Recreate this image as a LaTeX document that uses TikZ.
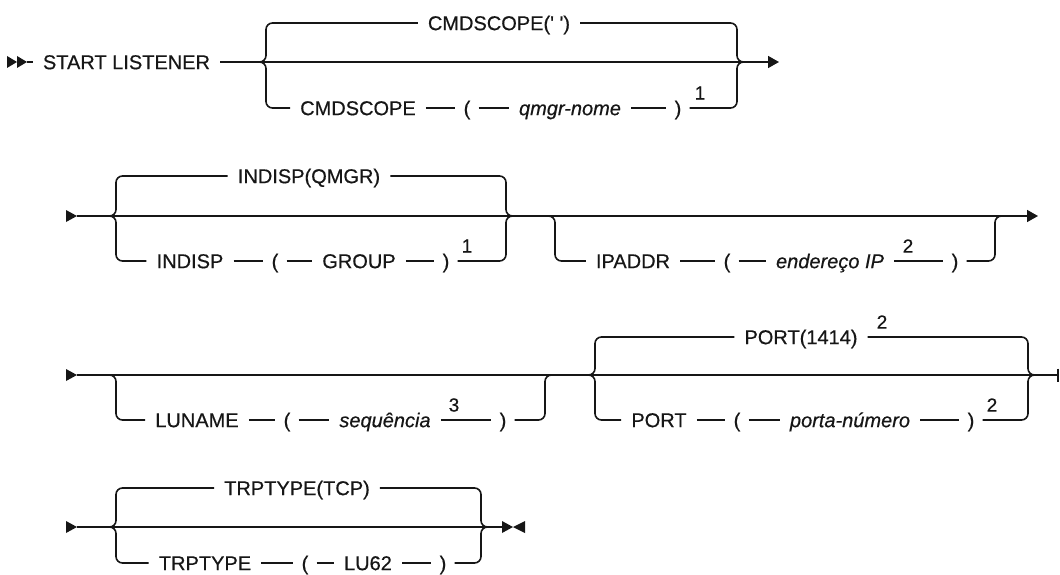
\documentclass[tikz,border=0pt]{standalone}
\usepackage{fontspec}
\setmainfont{Liberation Sans}[FakeBold=0.5]
\usetikzlibrary{arrows.meta}
\definecolor{railInk}{RGB}{22, 22, 22}
\newcommand{\railfont}{\fontsize{20}{23}\selectfont}
\newcommand{\railnote}{\fontsize{19}{21}\selectfont}

\begin{document}
\begin{tikzpicture}[x=1pt, y=-1pt,
  rail/.style={line width=1.6pt, draw=railInk},
  fork/.style={rail, rounded corners=6.5pt},
  kw/.style={font=\railfont, text=railInk, inner xsep=10pt, inner ysep=0pt,
    text height=14.3pt, text depth=0pt},
  var/.style={kw, font=\railfont\itshape},
  paren/.style={kw, inner xsep=8pt},
  note/.style={font=\railnote, text=railInk, inner sep=0pt},
  endtip/.style={-{Triangle[length=11pt, width=12pt]}}]
  \useasboundingbox (0,0) rectangle (1060,575);

  % 1. START LISTENER, CMDSCOPE
  \begin{scope}[yshift=-62pt]
  \fill[railInk] (7,-6) -- (17,0) -- (7,6) -- cycle;
  \fill[railInk] (17,-6) -- (27,0) -- (17,6) -- cycle;
  \coordinate (s1) at (27,0);
  \coordinate (j1) at (258,0);
  \coordinate (b1) at (266,0);
  \coordinate (b1r) at (737,0);
  \coordinate (j1r) at (745,0);
  \coordinate (e1) at (779,0);
  \node[kw] (start) at (126.5,0) {START LISTENER};
  \node[kw] (csdef) at (499,-39) {CMDSCOPE(\textquotesingle\ \textquotesingle)};
  \node[kw] (cs) at (358,46) {CMDSCOPE};
  \node[paren] (cslp) at (467,46) {(};
  \node[var] (qmgr) at (570,46) {qmgr-nome};
  \node[paren] (csrp) at (678,46) {)};
  \node[note] (n1a) at (700,31) {1};
  \draw[rail] (s1) -- (start.west);
  \draw[rail] (start.east) -- (j1);
  \draw[rail, endtip] (j1) -- (e1);
  \draw[fork] (j1) -- (b1) |- (csdef.west);
  \draw[fork] (csdef.east) -| (b1r) -- (j1r);
  \draw[fork] (j1) -- (b1) |- (cs.west);
  \draw[fork] (csrp.east) -| (b1r) -- (j1r);
  \draw[rail] (cs.east) -- (cslp.west);
  \draw[rail] (cslp.east) -- (qmgr.west);
  \draw[rail] (qmgr.east) -- (csrp.west);
  \end{scope}

  % 2. INDISP, IPADDR
  \begin{scope}[yshift=-216pt]
  \fill[railInk] (66,-6) -- (77,0) -- (66,6) -- cycle;
  \coordinate (s2) at (77,0);
  \coordinate (j2) at (108,0);
  \coordinate (b2) at (116,0);
  \coordinate (b2r) at (506,0);
  \coordinate (j2r) at (515,0);
  \coordinate (ipj) at (547,0);
  \coordinate (ipb) at (555,0);
  \coordinate (ipbr) at (995,0);
  \coordinate (ipjr) at (1003,0);
  \coordinate (e2) at (1038,0);
  \node[kw] (inq) at (309,-40) {INDISP(QMGR)};
  \node[kw] (ind) at (190,45) {INDISP};
  \node[paren] (indlp) at (275,45) {(};
  \node[kw] (grp) at (359,45) {GROUP};
  \node[paren] (indrp) at (446,45) {)};
  \node[note] (n2a) at (467,30) {1};
  \node[kw] (ipa) at (633,45) {IPADDR};
  \node[paren] (iplp) at (727,45) {(};
  \node[var] (ipv) at (830,45) {endereço IP};
  \node[note] (n2b) at (908,30) {2};
  \node[paren] (iprp) at (955,45) {)};
  \draw[rail, endtip] (s2) -- (e2);
  \draw[fork] (j2) -- (b2) |- (inq.west);
  \draw[fork] (inq.east) -| (b2r) -- (j2r);
  \draw[fork] (j2) -- (b2) |- (ind.west);
  \draw[fork] (indrp.east) -| (b2r) -- (j2r);
  \draw[rail] (ind.east) -- (indlp.west);
  \draw[rail] (indlp.east) -- (grp.west);
  \draw[rail] (grp.east) -- (indrp.west);
  \draw[fork] (ipj) -- (ipb) |- (ipa.west);
  \draw[fork] (iprp.east) -| (ipbr) -- (ipjr);
  \draw[rail] (ipa.east) -- (iplp.west);
  \draw[rail] (iplp.east) -- (ipv.west);
  \draw[rail] (ipv.east) -- (iprp.west);
  \end{scope}

  % 3. LUNAME, PORT
  \begin{scope}[yshift=-375pt]
  \fill[railInk] (66,-6) -- (77,0) -- (66,6) -- cycle;
  \coordinate (s3) at (77,0);
  \coordinate (luj) at (108,0);
  \coordinate (lub) at (116,0);
  \coordinate (lubr) at (545,0);
  \coordinate (lujr) at (553,0);
  \coordinate (pj) at (587,0);
  \coordinate (pb) at (595,0);
  \coordinate (pbr) at (1028,0);
  \coordinate (pjr) at (1036,0);
  \coordinate (e3) at (1059,0);
  \node[kw] (lun) at (197,45) {LUNAME};
  \node[paren] (lulp) at (287,45) {(};
  \node[var] (seq) at (385,45) {sequência};
  \node[note] (n3a) at (454,30) {3};
  \node[paren] (lurp) at (503,45) {)};
  \node[kw] (pdef) at (801,-38) {PORT(1414)};
  \node[note] (n3b) at (882,-53) {2};
  \node[kw] (port) at (659,45) {PORT};
  \node[paren] (plp) at (737,45) {(};
  \node[var] (pnum) at (850,45) {porta-número};
  \node[paren] (prp) at (971,45) {)};
  \node[note] (n3c) at (992,30) {2};
  \draw[rail, -{Bar[width=13pt]}] (s3) -- (e3);
  \draw[fork] (luj) -- (lub) |- (lun.west);
  \draw[fork] (lurp.east) -| (lubr) -- (lujr);
  \draw[rail] (lun.east) -- (lulp.west);
  \draw[rail] (lulp.east) -- (seq.west);
  \draw[rail] (seq.east) -- (lurp.west);
  \draw[fork] (pj) -- (pb) |- (pdef.west);
  \draw[fork] (pdef.east) -| (pbr) -- (pjr);
  \draw[fork] (pj) -- (pb) |- (port.west);
  \draw[fork] (prp.east) -| (pbr) -- (pjr);
  \draw[rail] (port.east) -- (plp.west);
  \draw[rail] (plp.east) -- (pnum.west);
  \draw[rail] (pnum.east) -- (prp.west);
  \end{scope}

  % 4. TRPTYPE
  \begin{scope}[yshift=-527pt]
  \fill[railInk] (66,-6) -- (77,0) -- (66,6) -- cycle;
  \coordinate (s4) at (77,0);
  \coordinate (tj) at (108,0);
  \coordinate (tb) at (116,0);
  \coordinate (tbr) at (481,0);
  \coordinate (tjr) at (488,0);
  \coordinate (e4) at (502,0);
  \node[kw] (tdef) at (297,-39) {TRPTYPE(TCP)};
  \node[kw] (trp) at (205,36) {TRPTYPE};
  \node[paren] (tlp) at (305,36) {(};
  \node[kw] (lu) at (368,36) {LU62};
  \node[paren] (trpr) at (443,36) {)};
  \draw[rail] (s4) -- (e4);
  \fill[railInk] (502,-6) -- (513,0) -- (502,6) -- cycle;
  \fill[railInk] (525,-6) -- (513,0) -- (525,6) -- cycle;
  \draw[fork] (tj) -- (tb) |- (tdef.west);
  \draw[fork] (tdef.east) -| (tbr) -- (tjr);
  \draw[fork] (tj) -- (tb) |- (trp.west);
  \draw[fork] (trpr.east) -| (tbr) -- (tjr);
  \draw[rail] (trp.east) -- (tlp.west);
  \draw[rail] (tlp.east) -- (lu.west);
  \draw[rail] (lu.east) -- (trpr.west);
  \end{scope}
\end{tikzpicture}
\end{document}
